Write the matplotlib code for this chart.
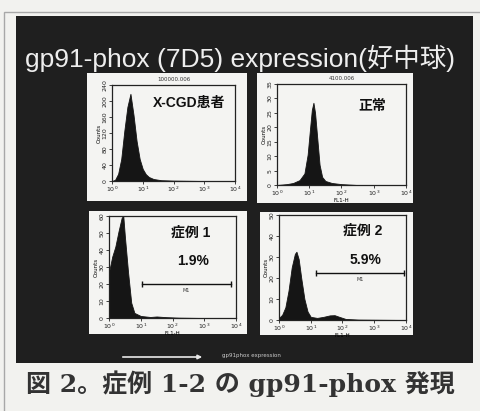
import numpy as np
import matplotlib
matplotlib.use("Agg")
import matplotlib.pyplot as plt
from matplotlib.patches import Rectangle, FancyArrowPatch

W, H = 481, 411

# histogram data: positions in decades (log10 of FL1-H) and counts
p1_log = [0.0, 0.1, 0.2, 0.3, 0.4, 0.5, 0.6, 0.7, 0.8, 0.9, 1.0, 1.1, 1.2, 1.35, 1.6, 2.0, 3.0, 4.0]
p1_counts = [0, 3, 18, 55, 125, 185, 218, 165, 100, 55, 30, 17, 10, 5, 2, 1, 0, 0]

p2_log = [0.0, 0.3, 0.5, 0.7, 0.85, 0.95, 1.02, 1.08, 1.13, 1.18, 1.25, 1.32, 1.4, 1.5, 1.7, 2.0, 2.5, 4.0]
p2_counts = [0, 0.3, 0.7, 1.7, 4, 10.5, 19, 26, 28.5, 25, 16, 7, 2.8, 1.4, 0.7, 0.3, 0, 0]

p3_log = [0.0, 0.1, 0.2, 0.3, 0.4, 0.45, 0.5, 0.6, 0.7, 0.8, 1.0, 1.3, 1.5, 1.8, 2.2, 3.0, 4.0]
p3_counts = [27, 36, 42, 51, 59, 60, 48, 27, 9, 3, 1.2, 0.6, 0.9, 0.5, 0.2, 0, 0]

p4_log = [0.0, 0.1, 0.2, 0.3, 0.4, 0.5, 0.55, 0.62, 0.7, 0.8, 0.9, 1.0, 1.2, 1.4, 1.6, 1.75, 1.9, 2.1, 2.5, 4.0]
p4_counts = [1, 2.5, 6, 14, 25, 31.5, 32.5, 29, 20, 10, 4, 1.5, 1, 1.5, 2.2, 2.3, 1.5, 0.5, 0.2, 0]

panel_titles = ["X-CGD患者", "正常", "症例 1", "症例 2"]
panel_ymax = [240, 35, 60, 50]
panel_yticks = [[0, 40, 80, 120, 160, 200, 240], [0, 5, 10, 15, 20, 25, 30, 35],
                [0, 10, 20, 30, 40, 50, 60], [0, 10, 20, 30, 40, 50]]
file_labels = ["100000.006", "4100.006", None, None]
gate_pct = [None, None, "1.9%", "5.9%"]
gate_range = [None, None, (1.04, 3.85), (1.15, 3.95)]
gate_level = [None, None, 0.33, 0.45]  # fraction of y range

# pixel boxes (x0, y0, x1, y1)
white_boxes = [(87, 73, 247, 201), (257, 73, 413, 203), (89, 211, 247, 334), (260, 212, 413, 335)]
axes_boxes = [(112, 85, 235, 181), (277, 84, 406, 185), (109, 216, 236, 318), (279, 215, 406, 320)]
title_pos = [(0.63, 0.81), (0.74, 0.78), (0.64, 0.84), (0.66, 0.85)]
pct_pos = [None, None, (0.66, 0.56), (0.68, 0.57)]


def fig_rect(x0, y0, x1, y1):
    return [x0 / W, 1 - y1 / H, (x1 - x0) / W, (y1 - y0) / H]


def main():
    fig = plt.figure(figsize=(W / 100, H / 100), dpi=100, facecolor="#f2f2ef")

    # outer frame of the scanned page and dark slide background
    fig.add_artist(Rectangle((4 / W, -0.01), 1.0, 1 - 12 / H + 0.01, transform=fig.transFigure,
                             fill=False, edgecolor="#a8a8a8", lw=1.0, zorder=-3))
    x, y, w, h = fig_rect(16, 16, 473, 363)
    fig.add_artist(Rectangle((x, y), w, h, transform=fig.transFigure,
                             facecolor="#1f1f1f", edgecolor="none", zorder=-2))
    for box in white_boxes:
        x, y, w, h = fig_rect(*box)
        fig.add_artist(Rectangle((x, y), w, h, transform=fig.transFigure,
                                 facecolor="#f4f4f2", edgecolor="none", zorder=-1))

    fig.text(0.5, 1 - 58 / H, "gp91-phox (7D5) expression(好中球)", color="#eeeeee",
             fontsize=19, ha="center", va="center",
             family=["Liberation Sans", "Noto Sans CJK JP"])

    data = [(p1_log, p1_counts), (p2_log, p2_counts), (p3_log, p3_counts), (p4_log, p4_counts)]
    cjk = ["Liberation Sans", "Noto Sans CJK JP"]
    for i, (logs, counts) in enumerate(data):
        ax = fig.add_axes(fig_rect(*axes_boxes[i]))
        ax.set_facecolor("#f4f4f2")
        xs = 10 ** np.array(logs)
        ax.fill_between(xs, counts, color="#151515", lw=0.6)
        ax.set_xscale("log")
        ax.set_xlim(1, 1e4)
        ax.set_ylim(0, panel_ymax[i])
        ax.set_xticks([1, 10, 100, 1000, 10000])
        ax.set_xticklabels([r"$10^{%d}$" % k for k in range(5)])
        ax.xaxis.set_minor_locator(plt.NullLocator())
        ax.set_yticks(panel_yticks[i])
        ax.set_yticklabels([str(v) for v in panel_yticks[i]], rotation=90, va="center")
        ax.tick_params(labelsize=4.5, length=2, width=0.6, pad=1, colors="#222222")
        for s in ax.spines.values():
            s.set_linewidth(0.9)
            s.set_color("#222222")
        ax.set_ylabel("Counts", fontsize=4, labelpad=1)
        if i > 0:
            ax.set_xlabel("FL1-H", fontsize=4, labelpad=0)
        tx, ty = title_pos[i]
        ax.text(tx, ty, panel_titles[i], transform=ax.transAxes, ha="center", va="center",
                fontsize=10, fontweight="bold", family=cjk, color="#111111")
        if file_labels[i]:
            ax.text(0.5, 1.03, file_labels[i], transform=ax.transAxes, ha="center",
                    va="bottom", fontsize=4, color="#333333")
        if gate_pct[i]:
            px, py = pct_pos[i]
            ax.text(px, py, gate_pct[i], transform=ax.transAxes, ha="center", va="center",
                    fontsize=10, fontweight="bold", family=cjk, color="#111111")
            lo, hi = gate_range[i]
            gy = gate_level[i] * panel_ymax[i]
            ax.plot([10 ** lo, 10 ** hi], [gy, gy], color="#111111", lw=1.0)
            ax.plot([10 ** lo, 10 ** hi], [gy, gy], ls="none", marker="|", ms=5,
                    mew=1.0, color="#111111")
            ax.text(10 ** ((lo + hi) / 2), gy - 0.04 * panel_ymax[i], "M1", fontsize=3.5,
                    ha="center", va="top", color="#333333")

    # axis direction arrow at the bottom of the slide
    fig.add_artist(FancyArrowPatch((120 / W, 1 - 357 / H), (205 / W, 1 - 357 / H),
                                   transform=fig.transFigure, arrowstyle="-|>",
                                   mutation_scale=6, color="#e8e8e8", lw=1.2))
    fig.text(222 / W, 1 - 355 / H, "gp91phox expression", color="#cccccc", fontsize=4,
             ha="left", va="center")

    fig.text(0.5, 1 - 384 / H, "図 2。症例 1-2 の gp91-phox 発現", color="#333333",
             fontsize=18, fontweight="bold", ha="center", va="center",
             family=["DejaVu Serif", "Noto Sans CJK JP"])

    fig.savefig("out.png", dpi=100, facecolor=fig.get_facecolor())


if __name__ == "__main__":
    main()
